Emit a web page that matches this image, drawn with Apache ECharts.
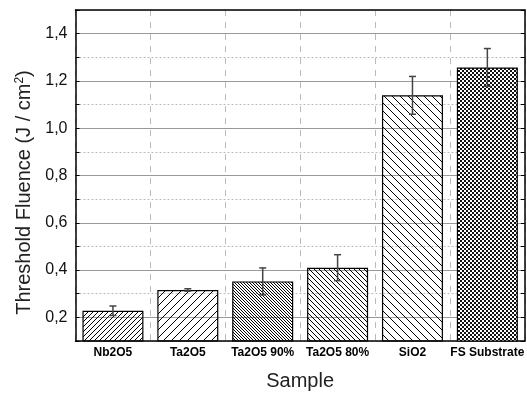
<!DOCTYPE html>
<html lang="en">
<head>
    <meta charset="UTF-8">
    <title>Threshold Fluence per Sample</title>
    <script src="https://cdn.jsdelivr.net/npm/echarts@6/dist/echarts.min.js"></script>
    <style>
        html, body { margin: 0; padding: 0; background: #fff; }
    </style>
</head>
<body>
    <div id="chart" style="width: 527px; height: 396px;"></div>

    <script>
        // Data
        const samples = ['Nb2O5', 'Ta2O5', 'Ta2O5 90%', 'Ta2O5 80%', 'SiO2', 'FS Substrate'];
        const fluence = [0.228, 0.316, 0.352, 0.410, 1.139, 1.257];
        const fluenceErr = [0.020, 0.005, 0.057, 0.055, 0.080, 0.080];
        const yTicks = [0.2, 0.4, 0.6, 0.8, 1.0, 1.2, 1.4];

        // hatch fill, transparent background so the grid shows through
        function hatch(size, dir) {
            const c = document.createElement('canvas');
            c.width = size; c.height = size;
            const g = c.getContext('2d');
            g.strokeStyle = '#000';
            g.lineWidth = 1;
            g.beginPath();
            if (dir === '/') {
                g.moveTo(-1, size + 1); g.lineTo(size + 1, -1);
                g.moveTo(-1, 1); g.lineTo(1, -1);
                g.moveTo(size - 1, size + 1); g.lineTo(size + 1, size - 1);
            } else {
                g.moveTo(-1, -1); g.lineTo(size + 1, size + 1);
                g.moveTo(size - 1, -1); g.lineTo(size + 1, 1);
                g.moveTo(-1, size - 1); g.lineTo(1, size + 1);
            }
            g.stroke();
            return { image: c, repeat: 'repeat' };
        }

        function checker() {
            const c = document.createElement('canvas');
            c.width = 4; c.height = 4;
            const g = c.getContext('2d');
            g.fillStyle = '#fff';
            g.fillRect(0, 0, 4, 4);
            g.fillStyle = '#111';
            g.fillRect(0, 0, 2, 2);
            g.fillRect(2, 2, 2, 2);
            return { image: c, repeat: 'repeat' };
        }

        const fills = [hatch(5, '/'), hatch(8, '/'), hatch(3, '\\'), hatch(5, '\\'), hatch(8, '\\'), checker()];

        const fmt = v => {
            const k = Math.round(v * 10);
            return yTicks.some(t => Math.round(t * 10) === k) ? (k / 10).toFixed(1).replace('.', ',') : '';
        };

        const chart = echarts.init(document.getElementById('chart'));

        const options = {
            animation: false,
            grid: { left: 75.5, top: 10, width: 453.6, bottom: 53 },
            xAxis: [{
                type: 'category',
                data: samples,
                position: 'bottom',
                axisLine: { lineStyle: { color: '#000', width: 1.5 } },
                axisTick: { inside: true, alignWithLabel: true, interval: 0, length: 5, lineStyle: { color: '#000' } },
                axisLabel: { interval: 0, color: '#000', fontWeight: 'bold', fontSize: 12, fontFamily: 'Liberation Sans', margin: 6 },
                splitLine: { show: true, interval: 0, lineStyle: { color: '#bbb', type: [6, 6], width: 1 } },
                name: 'Sample',
                nameLocation: 'middle',
                nameGap: 30,
                nameTextStyle: { color: '#222', fontSize: 20, fontFamily: 'Liberation Sans' }
            }, {
                type: 'category',
                data: samples,
                position: 'top',
                axisLine: { lineStyle: { color: '#000', width: 1.5 } },
                axisTick: { inside: true, alignWithLabel: true, interval: 0, length: 5, lineStyle: { color: '#000' } },
                axisLabel: { show: false }
            }],
            yAxis: [{
                type: 'value',
                position: 'left',
                min: 0.1,
                max: 1.5,
                interval: 0.1,
                axisLine: { show: true, lineStyle: { color: '#000', width: 1.5 } },
                axisTick: { show: true, inside: true, length: 4, lineStyle: { color: '#000' } },
                axisLabel: { color: '#111', fontSize: 16, fontFamily: 'Liberation Sans', margin: 8, formatter: fmt },
                splitLine: { show: true, showMinLine: true, showMaxLine: true,
                    lineStyle: { color: ['rgba(0,0,0,0)', '#999'], width: 1 } },
                name: '{m|Threshold Fluence (J / cm}{s|2}{m|)}',
                nameLocation: 'middle',
                nameGap: 40,
                nameTextStyle: {
                    padding: [0, 34, 0, 0],
                    rich: {
                        m: { fontSize: 20, color: '#222', fontFamily: 'Liberation Sans' },
                        s: { fontSize: 12, color: '#222', fontFamily: 'Liberation Sans', verticalAlign: 'top', padding: [0, 0, 10, 0] }
                    }
                }
            }, {
                type: 'value',
                position: 'right',
                min: 0.1,
                max: 1.5,
                interval: 0.1,
                axisLine: { show: true, lineStyle: { color: '#000', width: 1.5 } },
                axisTick: { show: true, inside: true, length: 4, lineStyle: { color: '#000' } },
                axisLabel: { show: false },
                splitLine: { show: true, showMinLine: true, showMaxLine: true,
                    lineStyle: { color: ['#bbb', 'rgba(0,0,0,0)'], type: [2, 2], width: 1 } }
            }],
            series: [{
                name: 'Threshold Fluence',
                type: 'bar',
                barWidth: 61,
                data: fluence.map((v, i) => ({ value: v, itemStyle: { color: fills[i] } })),
                itemStyle: { borderColor: '#000', borderWidth: 1.2 }
            }, {
                name: 'Error',
                type: 'custom',
                z: 5,
                data: fluence.map((v, i) => [i, v - fluenceErr[i], v + fluenceErr[i]]),
                renderItem: (params, api) => {
                    const lo = api.coord([api.value(0), api.value(1)]);
                    const hi = api.coord([api.value(0), api.value(2)]);
                    const cap = 3.5;
                    const style = { stroke: '#444', lineWidth: 1.5 };
                    return {
                        type: 'group',
                        children: [
                            { type: 'line', shape: { x1: lo[0], y1: lo[1], x2: hi[0], y2: hi[1] }, style },
                            { type: 'line', shape: { x1: hi[0] - cap, y1: hi[1], x2: hi[0] + cap, y2: hi[1] }, style },
                            { type: 'line', shape: { x1: lo[0] - cap, y1: lo[1], x2: lo[0] + cap, y2: lo[1] }, style }
                        ]
                    };
                }
            }]
        };

        chart.setOption(options);
    </script>
</body>
</html>
